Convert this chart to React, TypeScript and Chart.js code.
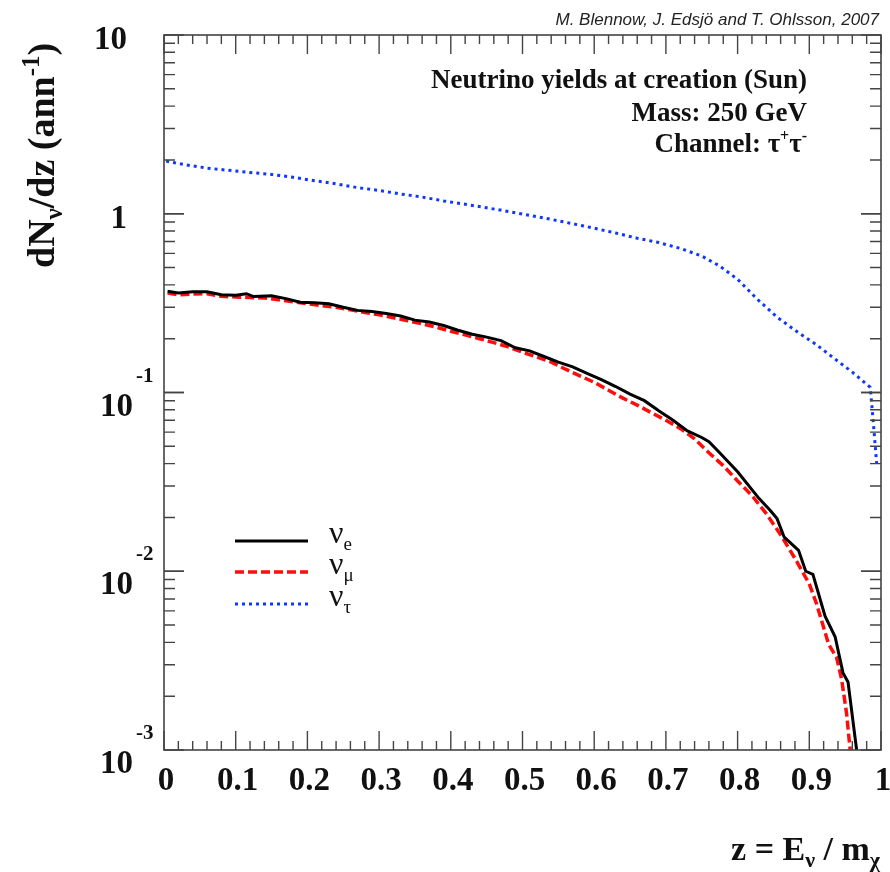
import React, { useEffect, useRef } from "react";
import { Chart, registerables } from "chart.js";

Chart.register(...registerables);

// nu_e (black solid)
const zE = [0.005, 0.02, 0.04, 0.06, 0.08, 0.1, 0.115, 0.125, 0.15, 0.17, 0.19, 0.21, 0.23, 0.25, 0.27, 0.29, 0.31, 0.33, 0.35, 0.37, 0.39, 0.41, 0.43, 0.45, 0.47, 0.49, 0.51, 0.53, 0.55, 0.57, 0.59, 0.61, 0.63, 0.65, 0.67, 0.69, 0.71, 0.73, 0.75, 0.76, 0.775, 0.8, 0.83, 0.845, 0.855, 0.865, 0.885, 0.895, 0.905, 0.922, 0.936, 0.947, 0.954, 0.966, 0.97];
const nuE = [0.368, 0.36, 0.366, 0.366, 0.352, 0.35, 0.357, 0.344, 0.348, 0.335, 0.32, 0.318, 0.314, 0.3, 0.288, 0.284, 0.277, 0.268, 0.254, 0.248, 0.237, 0.223, 0.212, 0.204, 0.195, 0.178, 0.171, 0.159, 0.148, 0.139, 0.128, 0.118, 0.108, 0.098, 0.09, 0.079, 0.07, 0.061, 0.056, 0.053, 0.046, 0.036, 0.0255, 0.022, 0.0197, 0.0155, 0.0131, 0.01, 0.0096, 0.0056, 0.0043, 0.0027, 0.0024, 0.001, 0.0008];

// nu_mu (red dashed)
const zMu = [0.005, 0.02, 0.04, 0.06, 0.08, 0.1, 0.12, 0.14, 0.16, 0.18, 0.2, 0.22, 0.24, 0.26, 0.28, 0.3, 0.32, 0.34, 0.36, 0.38, 0.4, 0.42, 0.44, 0.46, 0.48, 0.5, 0.52, 0.54, 0.56, 0.58, 0.6, 0.62, 0.64, 0.66, 0.68, 0.7, 0.72, 0.74, 0.76, 0.78, 0.8, 0.82, 0.84, 0.86, 0.88, 0.9, 0.91, 0.927, 0.938, 0.945, 0.952, 0.957, 0.96];
const nuMu = [0.36, 0.352, 0.355, 0.357, 0.345, 0.342, 0.34, 0.338, 0.33, 0.322, 0.314, 0.306, 0.3, 0.29, 0.28, 0.272, 0.262, 0.252, 0.242, 0.232, 0.22, 0.21, 0.2, 0.19, 0.18, 0.168, 0.158, 0.148, 0.135, 0.124, 0.114, 0.103, 0.093, 0.085, 0.077, 0.07, 0.063, 0.055, 0.046, 0.039, 0.032, 0.0265, 0.021, 0.016, 0.0118, 0.0085, 0.0066, 0.0039, 0.0033, 0.0025, 0.0016, 0.001, 0.0008];

// nu_tau (blue dotted)
const zTau = [0.003, 0.03, 0.06, 0.09, 0.12, 0.15, 0.18, 0.21, 0.24, 0.27, 0.3, 0.33, 0.36, 0.39, 0.42, 0.45, 0.48, 0.51, 0.54, 0.57, 0.6, 0.63, 0.66, 0.69, 0.72, 0.75, 0.775, 0.8, 0.827, 0.855, 0.887, 0.91, 0.933, 0.96, 0.985, 0.989, 0.994];
const nuTau = [1.97, 1.88, 1.8, 1.75, 1.7, 1.66, 1.6, 1.53, 1.47, 1.4, 1.35, 1.29, 1.24, 1.18, 1.13, 1.08, 1.03, 0.98, 0.93, 0.88, 0.83, 0.78, 0.73, 0.69, 0.64, 0.58, 0.51, 0.43, 0.334, 0.264, 0.213, 0.185, 0.157, 0.13, 0.107, 0.07, 0.04];

const xTickValues = [0, 0.1, 0.2, 0.3, 0.4, 0.5, 0.6, 0.7, 0.8, 0.9, 1];
const xTickLabels = ["0", "0.1", "0.2", "0.3", "0.4", "0.5", "0.6", "0.7", "0.8", "0.9", "1"];
const yTickValues = [0.001, 0.01, 0.1, 1, 10];
const yTickBase = ["10", "10", "10", "1", "10"];
const yTickExp = ["-3", "-2", "-1", "", ""];

const legendLabels = ["e", "\u03bc", "\u03c4"];
const annotationLines = ["Neutrino yields at creation (Sun)", "Mass: 250 GeV"];

const SERIF = '"Liberation Serif", "Times New Roman", serif';
const B = (s: number) => `bold ${s}px ${SERIF}`;
const R = (s: number) => `${s}px ${SERIF}`;

type Run = { t: string; f: string; dy?: number };

function runsWidth(ctx: CanvasRenderingContext2D, runs: Run[]) {
  let w = 0;
  for (const r of runs) {
    ctx.font = r.f;
    w += ctx.measureText(r.t).width;
  }
  return w;
}
function drawRuns(ctx: CanvasRenderingContext2D, x: number, y: number, runs: Run[], align: "left" | "right" = "left") {
  ctx.textAlign = "left";
  ctx.textBaseline = "alphabetic";
  let cx = align === "right" ? x - runsWidth(ctx, runs) : x;
  for (const r of runs) {
    ctx.font = r.f;
    ctx.fillText(r.t, cx, y + (r.dy || 0));
    cx += ctx.measureText(r.t).width;
  }
}

const decorPlugin = {
  id: "decor",
  afterDatasetsDraw(chart: any) {
    const ctx: CanvasRenderingContext2D = chart.ctx;
    const xs = chart.scales.x;
    const ys = chart.scales.y;
    const { left, right, top, bottom } = chart.chartArea;
    ctx.save();
    ctx.strokeStyle = "#444";
    ctx.lineWidth = 1.6;
    ctx.strokeRect(left, top, right - left, bottom - top);

    // x ticks (bottom & top)
    ctx.lineWidth = 1.4;
    for (let i = 0; i <= 50; i++) {
      const v = i / 50;
      const px = xs.getPixelForValue(v);
      const len = i % 5 === 0 ? 19 : 9;
      ctx.beginPath();
      ctx.moveTo(px, bottom);
      ctx.lineTo(px, bottom - len);
      ctx.moveTo(px, top);
      ctx.lineTo(px, top + len);
      ctx.stroke();
    }
    // y ticks (left & right)
    for (let e = -3; e <= 0; e++) {
      for (let m = 1; m <= 10; m++) {
        const v = m * Math.pow(10, e);
        const py = ys.getPixelForValue(v);
        const len = m === 1 || m === 10 ? 20 : 11;
        ctx.beginPath();
        ctx.moveTo(left, py);
        ctx.lineTo(left + len, py);
        ctx.moveTo(right, py);
        ctx.lineTo(right - len, py);
        ctx.stroke();
      }
    }

    ctx.fillStyle = "#111";
    // x tick labels
    ctx.font = B(33);
    ctx.textAlign = "center";
    ctx.textBaseline = "alphabetic";
    xTickValues.forEach((v, i) => {
      ctx.fillText(xTickLabels[i], xs.getPixelForValue(v) + 2, 790);
    });
    // y tick labels
    yTickValues.forEach((v, i) => {
      const py = ys.getPixelForValue(v);
      if (yTickExp[i]) {
        ctx.font = B(33);
        ctx.textAlign = "right";
        ctx.fillText(yTickBase[i], 133, py + 23);
        ctx.font = B(21);
        ctx.textAlign = "left";
        ctx.fillText(yTickExp[i], 136, py - 11);
      } else {
        ctx.font = B(33);
        ctx.textAlign = "right";
        ctx.fillText(yTickBase[i], 127, py + 14);
      }
    });

    // axis titles
    drawRuns(ctx, 880, 860, [
      { t: "z = E", f: B(34) },
      { t: "\u03bd", f: B(22), dy: 7 },
      { t: " / m", f: B(34) },
      { t: "\u03c7", f: B(22), dy: 7 },
    ], "right");

    ctx.save();
    ctx.translate(54, 268);
    ctx.rotate(-Math.PI / 2);
    drawRuns(ctx, 0, 0, [
      { t: "dN", f: B(38) },
      { t: "\u03bd", f: B(25), dy: 8 },
      { t: "/dz (ann", f: B(38) },
      { t: "-1", f: B(25), dy: -15 },
      { t: ")", f: B(38) },
    ]);
    ctx.restore();

    // credit
    ctx.font = `italic 17px "Liberation Sans", Arial, sans-serif`;
    ctx.textAlign = "right";
    ctx.fillStyle = "#222";
    ctx.fillText("M. Blennow, J. Edsj\u00f6 and T. Ohlsson, 2007", 879, 25);

    // annotation
    ctx.fillStyle = "#111";
    ctx.font = B(27);
    ctx.textAlign = "right";
    ctx.fillText(annotationLines[0], 807, 88);
    ctx.fillText(annotationLines[1], 807, 121);
    drawRuns(ctx, 807, 152, [
      { t: "Channel: \u03c4", f: B(27) },
      { t: "+", f: B(16), dy: -11 },
      { t: "\u03c4", f: B(27) },
      { t: "-", f: B(16), dy: -11 },
    ], "right");

    // legend
    const ds = chart.data.datasets;
    const ly = [541, 572, 604];
    ds.forEach((d: any, i: number) => {
      ctx.save();
      ctx.strokeStyle = d.borderColor;
      ctx.lineWidth = d.borderWidth;
      ctx.setLineDash(d.borderDash || []);
      ctx.beginPath();
      ctx.moveTo(235, ly[i]);
      ctx.lineTo(308, ly[i]);
      ctx.stroke();
      ctx.restore();
      ctx.fillStyle = "#111";
      drawRuns(ctx, 329, ly[i] + 2, [
        { t: "\u03bd", f: R(32) },
        { t: legendLabels[i], f: R(19), dy: 7 },
      ]);
    });
    ctx.restore();
  },
};

export default function App() {
  const ref = useRef<HTMLCanvasElement | null>(null);
  useEffect(() => {
    if (!ref.current) return;
    const mk = (xs: number[], ys: number[]) => xs.map((x, i) => ({ x, y: ys[i] }));
    const chart = new Chart(ref.current, {
      type: "line",
      data: {
        datasets: [
          { label: "nu_e", data: mk(zE, nuE), borderColor: "#000000", borderWidth: 3, pointRadius: 0, tension: 0 },
          { label: "nu_mu", data: mk(zMu, nuMu), borderColor: "#ff0d0d", borderWidth: 3.5, borderDash: [9, 4], pointRadius: 0, tension: 0 },
          { label: "nu_tau", data: mk(zTau, nuTau), borderColor: "#1036ff", borderWidth: 3, borderDash: [3, 4], pointRadius: 0, tension: 0 },
        ] as any,
      },
      options: {
        responsive: false,
        animation: false,
        layout: { padding: { left: 164, right: 9, top: 35, bottom: 122 } },
        scales: {
          x: { type: "linear", min: 0, max: 1, display: false },
          y: { type: "logarithmic", min: 0.001, max: 10, display: false },
        },
        plugins: { legend: { display: false }, tooltip: { enabled: false } },
      } as any,
      plugins: [decorPlugin],
    });
    return () => chart.destroy();
  }, []);
  return (
    <div style={{ position: "absolute", left: 0, top: 0, width: 890, height: 872, background: "#fff" }}>
      <canvas ref={ref} width={890} height={872} style={{ display: "block" }} />
    </div>
  );
}
